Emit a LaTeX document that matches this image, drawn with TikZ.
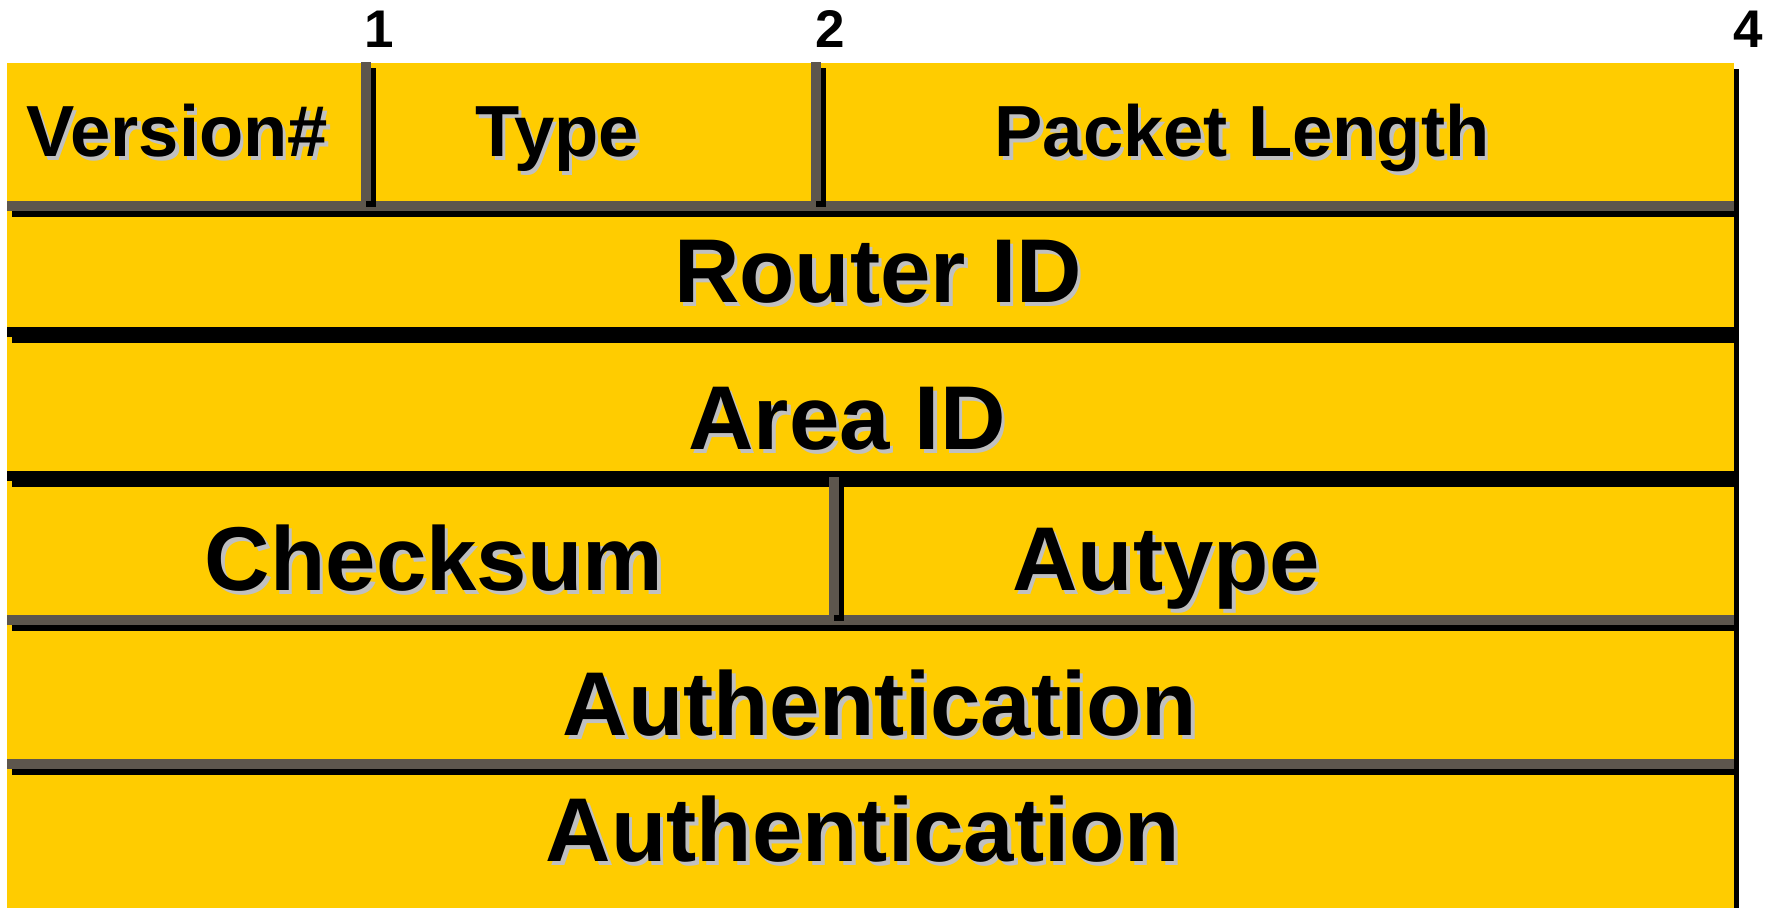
\documentclass[tikz,border=0pt]{standalone}
\usepackage{fontspec}
\setmainfont{Liberation Sans}
\definecolor{field}{RGB}{255,204,0}
\definecolor{rulegray}{RGB}{93,86,77}
\definecolor{txtshade}{RGB}{192,192,192}
\tikzset{
  lbl/.style={anchor=base, inner sep=0pt, font=\bfseries\fontsize{#1}{#1}\selectfont},
  bitnum/.style={anchor=base, inner sep=0pt, font=\bfseries\fontsize{26.5pt}{26.5pt}\selectfont},
}
% label with a light drop shadow: name, x, baseline y, size, text
\newcommand\fieldlabel[5]{%
  \node[lbl=#4, text=txtshade] (#1-shade) at ([shift={(3.5,3.5)}]#2,#3) {#5};
  \node[lbl=#4] (#1) at (#2,#3) {#5};
}
% full-width separator with a black offset shadow: top y, bar colour
\newcommand\rowrule[2]{%
  \fill[black] (12,#1+6) rectangle (1739,#1+16);
  \fill[#2] (7,#1) rectangle (1734,#1+10);
}
% vertical separator with a black offset shadow: left x, top y, bottom y
\newcommand\colrule[3]{%
  \fill[black] (#1+5,#2+6) rectangle (#1+15,#3+6);
  \fill[rulegray] (#1,#2) rectangle (#1+10,#3);
}
\begin{document}
\begin{tikzpicture}[x=0.5pt, y=-0.5pt]
\useasboundingbox (0,0) rectangle (1774,908);

% packet body
\fill[black] (12,69) rectangle (1739,908);
\fill[field] (7,63) rectangle (1734,908);

% first row and its dividers
\rowrule{201}{rulegray}
\colrule{361}{62}{201}
\colrule{811}{62}{201}

% full-word rows
\rowrule{327}{black}
\rowrule{471}{black}

% checksum / autype row
\rowrule{615}{rulegray}
\colrule{829}{477}{615}

% authentication rows
\rowrule{759}{rulegray}

% byte offsets
\node[bitnum] (b1) at (379,48) {1};
\node[bitnum] (b2) at (830,48) {2};
\node[bitnum] (b4) at (1748,48) {4};

% field names
\fieldlabel{version}{177}{157}{36.2pt}{Version\#}
\fieldlabel{type}{557}{157}{36.2pt}{Type}
\fieldlabel{pktlen}{1242}{157}{36.2pt}{Packet Length}
\fieldlabel{router}{878}{303}{45.3pt}{Router ID}
\fieldlabel{area}{847}{450}{45.3pt}{Area ID}
\fieldlabel{checksum}{434}{591}{45.3pt}{Checksum}
\fieldlabel{autype}{1166}{591}{45.3pt}{Autype}
\fieldlabel{auth1}{880}{736}{45.3pt}{Authentication}
\fieldlabel{auth2}{863}{862}{45.3pt}{Authentication}
\end{tikzpicture}
\end{document}
